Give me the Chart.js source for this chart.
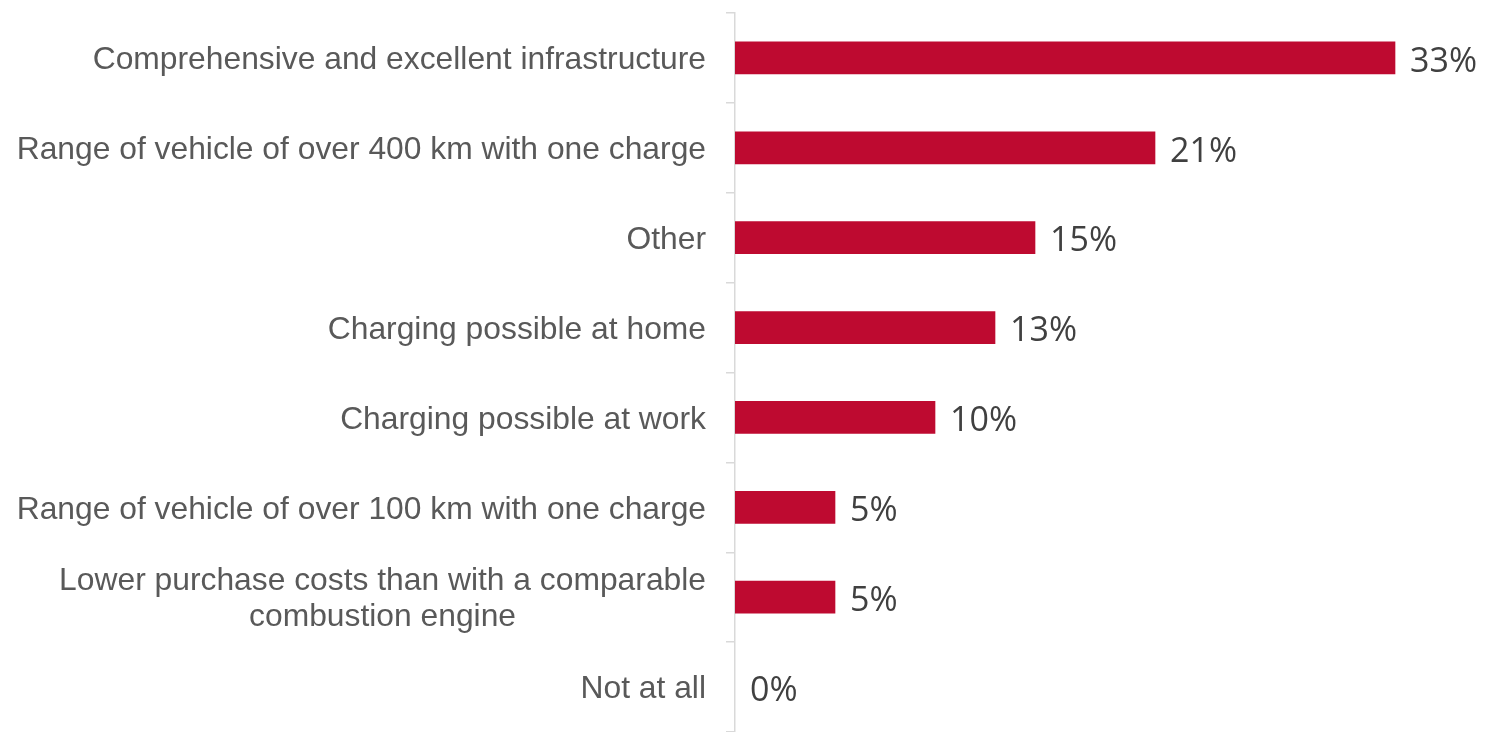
<!DOCTYPE html>
<html>
<head>
<meta charset="utf-8">
<script src="https://cdn.jsdelivr.net/npm/chart.js@4.4.1/dist/chart.umd.min.js"></script>
<style>
  html, body { margin: 0; padding: 0; background: #fff; }
  #wrap { width: 1486px; height: 732px; position: relative; }
</style>
</head>
<body>
<div id="wrap"><canvas id="chart"></canvas></div>
<script>
const categories = [
    ['Comprehensive and excellent infrastructure'],
    ['Range of vehicle of over 400 km with one charge'],
    ['Other'],
    ['Charging possible at home'],
    ['Charging possible at work'],
    ['Range of vehicle of over 100 km with one charge'],
    ['Lower purchase costs than with a comparable', 'combustion engine'],
    ['Not at all']
];
const shares = [33, 21, 15, 13, 10, 5, 5, 0];

const labelFont = '31.8px "Liberation Sans", Arial, sans-serif';
const valueFont = '34px "Open Sans", "DejaVu Sans", sans-serif';

// category labels: right aligned block, lines centred inside the block
const categoryLabels = {
    id: 'categoryLabels',
    afterDraw(chart) {
        const ctx = chart.ctx;
        const yScale = chart.scales.y;
        const right = chart.chartArea.left - 29;
        const lineHeight = 36;
        ctx.save();
        ctx.font = labelFont;
        ctx.fillStyle = '#595959';
        ctx.textBaseline = 'middle';
        ctx.textAlign = 'center';
        categories.forEach((lines, i) => {
            const y = yScale.getPixelForValue(i) + 2.5;
            const blockWidth = Math.max(...lines.map(l => ctx.measureText(l).width));
            const cx = right - blockWidth / 2;
            const startY = y - (lines.length - 1) * lineHeight / 2;
            lines.forEach((line, j) => {
                ctx.fillText(line, cx, startY + j * lineHeight);
            });
        });
        ctx.restore();
    }
};

// value labels at bar ends
const valueLabels = {
    id: 'valueLabels',
    afterDatasetsDraw(chart) {
        const ctx = chart.ctx;
        const meta = chart.getDatasetMeta(0);
        ctx.save();
        ctx.font = valueFont;
        ctx.fillStyle = '#404040';
        ctx.textBaseline = 'middle';
        ctx.textAlign = 'left';
        meta.data.forEach((bar, i) => {
            ctx.fillText(shares[i] + '%', bar.x + 15, bar.y + 4);
        });
        ctx.restore();
    }
};

new Chart(document.getElementById('chart'), {
    type: 'bar',
    data: {
        labels: categories.map(c => c.join(' ')),
        datasets: [{
            data: shares,
            backgroundColor: shares.map(v => v > 0 ? '#be0a30' : 'rgba(0,0,0,0)'),
            borderWidth: 0,
            barThickness: 32
        }]
    },
    options: {
        indexAxis: 'y',
        responsive: true,
        maintainAspectRatio: false,
        animation: false,
        layout: {
            padding: { top: 13, right: 0, bottom: 0, left: 0 }
        },
        plugins: {
            legend: { display: false },
            tooltip: { enabled: false }
        },
        scales: {
            x: {
                display: false,
                min: 0,
                max: 37.55
            },
            y: {
                afterFit(scale) { scale.width = 735; },
                border: { color: '#d9d9d9', width: 1.5 },
                grid: {
                    drawOnChartArea: false,
                    color: '#d9d9d9',
                    tickLength: 9,
                    lineWidth: 1.5,
                    offset: true
                },
                ticks: { display: false }
            }
        }
    },
    plugins: [valueLabels, categoryLabels]
});
</script>
</body>
</html>
